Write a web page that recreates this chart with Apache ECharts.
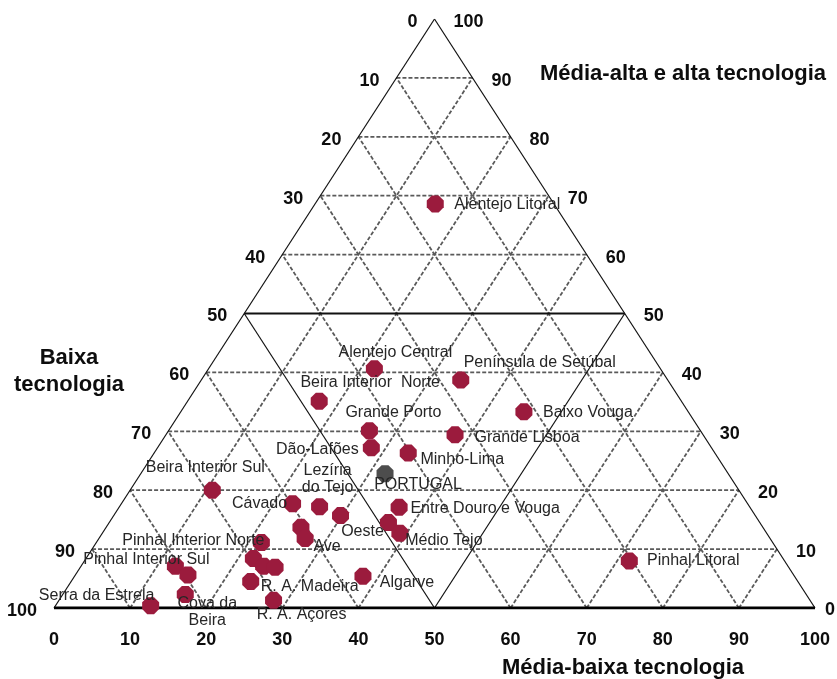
<!DOCTYPE html>
<html>
<head>
<meta charset="utf-8">
<script src="https://cdn.jsdelivr.net/npm/echarts@6/dist/echarts.min.js"></script>
<style>html,body{margin:0;padding:0;background:#fff}#c{width:837px;height:679px}</style>
</head>
<body>
<div id="c"></div>
<script>
// ---- data ----
const ticks = [0, 10, 20, 30, 40, 50, 60, 70, 80, 90, 100];
const regions = [
  'Alentejo Litoral', 'Alentejo Central', 'Península de Setúbal', 'Beira Interior Norte', 'Baixo Vouga',
  'Grande Porto', 'Grande Lisboa', 'Dão-Lafões', 'Minho-Lima', 'Beira Interior Sul',
  'Cávado', 'Lezíria do Tejo', 'Entre Douro e Vouga', 'Oeste', '',
  'Médio Tejo', '', 'Ave', 'Pinhal Interior Norte', '',
  '', '', 'R. A. Madeira', 'R. A. Açores', 'Pinhal Interior Sul',
  '', 'Cova da Beira', 'Serra da Estrela', 'Algarve', 'Pinhal Litoral'
];
const baixa = [
  15.6, 37.6, 27.2, 47.6, 21.6,
  43.5, 32.6, 44.7, 40.3, 69.2,
  59.8, 56.5, 46.1, 54.5, 48.8,
  48.2, 60.7, 61.1, 67.2, 69.6,
  68.9, 67.5, 71.9, 70.5, 80.5,
  79.6, 81.6, 87.1, 56.7, 20.4
];
const mediaBaixa = [
  15.8, 21.8, 34.1, 17.3, 45.1,
  26.4, 38.0, 28.1, 33.4, 10.8,
  22.5, 26.3, 36.8, 29.8, 36.7,
  39.1, 25.6, 27.1, 21.7, 22.0,
  24.0, 25.6, 23.6, 28.2, 12.4,
  14.8, 16.1, 12.5, 37.9, 71.6
];
const mediaAlta = [
  68.6, 40.6, 38.7, 35.1, 33.3,
  30.1, 29.4, 27.2, 26.3, 20.0,
  17.7, 17.2, 17.1, 15.7, 14.5,
  12.7, 13.7, 11.8, 11.1, 8.4,
  7.1, 6.9, 4.5, 1.3, 7.1,
  5.6, 2.3, 0.4, 5.4, 8.0
];
const nationalName = 'PORTUGAL';
const nationalValues = [45.1, 32.1, 22.8]; // baixa, média-baixa, média-alta

// ---- label layout (text centre offset from point, px) ----
const labelText = {
  'Beira Interior Norte': 'Beira Interior  Norte',
  'Lezíria do Tejo': 'Lezíria\ndo Tejo',
  'Cova da Beira': 'Cova da\nBeira'
};
const labelOffsets = {
  'Alentejo Litoral': [72, 1], 'Alentejo Central': [21, -16], 'Península de Setúbal': [79, -17],
  'Beira Interior Norte': [51, -19], 'Baixo Vouga': [64, 1], 'Grande Porto': [24, -18],
  'Grande Lisboa': [72, 3], 'Dão-Lafões': [-54, 2], 'Minho-Lima': [54, 7],
  'Beira Interior Sul': [-7, -23], 'Cávado': [-33, 0], 'Lezíria do Tejo': [8, -28],
  'Entre Douro e Vouga': [86, 1], 'Oeste': [22, 16], 'Médio Tejo': [44, 7], 'Ave': [22, 8],
  'Pinhal Interior Norte': [-68, -2], 'R. A. Madeira': [59, 5], 'R. A. Açores': [28, 14],
  'Pinhal Interior Sul': [-29, -7], 'Cova da Beira': [22, 18], 'Serra da Estrela': [-54, -10],
  'Algarve': [44, 6], 'Pinhal Litoral': [64, 0], 'PORTUGAL': [33, 11]
};

function toXY(b, mb, ma) {
  const s = b + mb + ma;
  return [(mb + ma / 2) / s * 100, ma / s * 100];
}

const FONT = '"Liberation Sans", Arial, sans-serif';
const series = [];

function seg(p1, p2, style) {
  series.push({
    type: 'line', data: [p1, p2], symbol: 'none', silent: true, animation: false,
    lineStyle: style, z: 1
  });
}
const dashed = { color: '#5a5a5a', width: 1.8, type: [4, 2] };
const thinSolid = { color: '#111', width: 1.2, type: 'solid' };
// grid lines
ticks.slice(1, -1).forEach(k => {
  const isMid = k === 50;
  // horizontal: média-alta = k
  seg([k / 2, k], [100 - k / 2, k], isMid ? { color: '#111', width: 2.2, type: 'solid' } : dashed);
  // média-baixa = k (parallel to left side)
  seg([k, 0], [k + (100 - k) / 2, 100 - k], isMid ? thinSolid : dashed);
  // baixa = k (parallel to right side)
  seg([100 - k, 0], [(100 - k) / 2, 100 - k], isMid ? thinSolid : dashed);
});
// triangle sides
seg([0, 0], [50, 100], thinSolid);
seg([50, 100], [100, 0], thinSolid);
seg([0, 0], [100, 0], { color: '#000', width: 2.8, type: 'solid' });

// points
const octagon = 'path://M30,0L70,0L100,30L100,70L70,100L30,100L0,70L0,30Z';
const pointData = regions.map((name, i) => {
  const off = labelOffsets[name];
  return {
    name: name,
    value: toXY(baixa[i], mediaBaixa[i], mediaAlta[i]),
    label: name ? { show: true, formatter: labelText[name] || name, offset: off || [0, 0] } : { show: false }
  };
});
const labelBase = {
  position: 'inside', align: 'center', verticalAlign: 'middle',
  fontFamily: FONT, fontSize: 16, color: '#262626', lineHeight: 17
};
series.push({
  type: 'scatter', symbol: octagon, symbolSize: 17, z: 5, animation: false,
  itemStyle: { color: '#9b1b3d', opacity: 1 },
  label: labelBase,
  data: pointData
});
series.push({
  type: 'scatter', symbol: octagon, symbolSize: 17, z: 5, animation: false,
  itemStyle: { color: '#4d4d4d', opacity: 1 },
  label: labelBase,
  data: [{
    name: nationalName,
    value: toXY(nationalValues[0], nationalValues[1], nationalValues[2]),
    label: { show: true, formatter: nationalName, offset: labelOffsets[nationalName] }
  }]
});

// tick labels
const tickFont = { fontFamily: FONT, fontSize: 18, fontWeight: 'bold', color: '#0d0d0d', show: true };
const tickItem = { color: '#fff', opacity: 1, borderWidth: 0 };
// left side: baixa tecnologia (0 top, 100 bottom-left)
series.push({
  type: 'scatter', symbolSize: 0.01, itemStyle: tickItem, silent: true, animation: false,
  label: Object.assign({ position: 'left', distance: 17, offset: [0, 3], formatter: p => p.data.t }, tickFont),
  data: ticks.map(b => ({ value: [(100 - b) / 2, 100 - b], t: String(b) }))
});
// right side: média-alta e alta tecnologia (100 top, 0 bottom-right)
series.push({
  type: 'scatter', symbolSize: 0.01, itemStyle: tickItem, silent: true, animation: false,
  label: Object.assign({ position: 'right', distance: 19, offset: [0, 3], formatter: p => p.data.t }, tickFont),
  data: ticks.map(m => ({
    value: [100 - m / 2, m], t: String(m),
    label: m === 0 ? { distance: 10, offset: [0, 2] } : undefined
  }))
});
// bottom: média-baixa tecnologia
series.push({
  type: 'scatter', symbolSize: 0.01, itemStyle: tickItem, silent: true, animation: false,
  label: Object.assign({ position: 'bottom', distance: 23, formatter: p => p.data.t }, tickFont),
  data: ticks.map(v => ({ value: [v, 0], t: String(v) }))
});

const titleStyle = { fontFamily: FONT, fontSize: 22, fontWeight: 'bold', fill: '#0d0d0d' };
const chart = echarts.init(document.getElementById('c'), null, { renderer: 'canvas' });
chart.setOption({
  animation: false,
  backgroundColor: '#fff',
  grid: { left: 54, right: 22, top: 19, bottom: 71 },
  xAxis: { type: 'value', min: 0, max: 100, show: false },
  yAxis: { type: 'value', min: 0, max: 100, show: false },
  series: series,
  graphic: [
    { type: 'text', left: 540, top: 63, style: Object.assign({ text: 'Média-alta e alta tecnologia' }, titleStyle) },
    { type: 'text', x: 69, y: 371, style: Object.assign({ text: 'Baixa\ntecnologia', align: 'center', verticalAlign: 'middle', lineHeight: 27 }, titleStyle) },
    { type: 'text', x: 623, y: 668, style: Object.assign({ text: 'Média-baixa tecnologia', align: 'center', verticalAlign: 'middle' }, titleStyle) }
  ]
});
</script>
</body>
</html>
